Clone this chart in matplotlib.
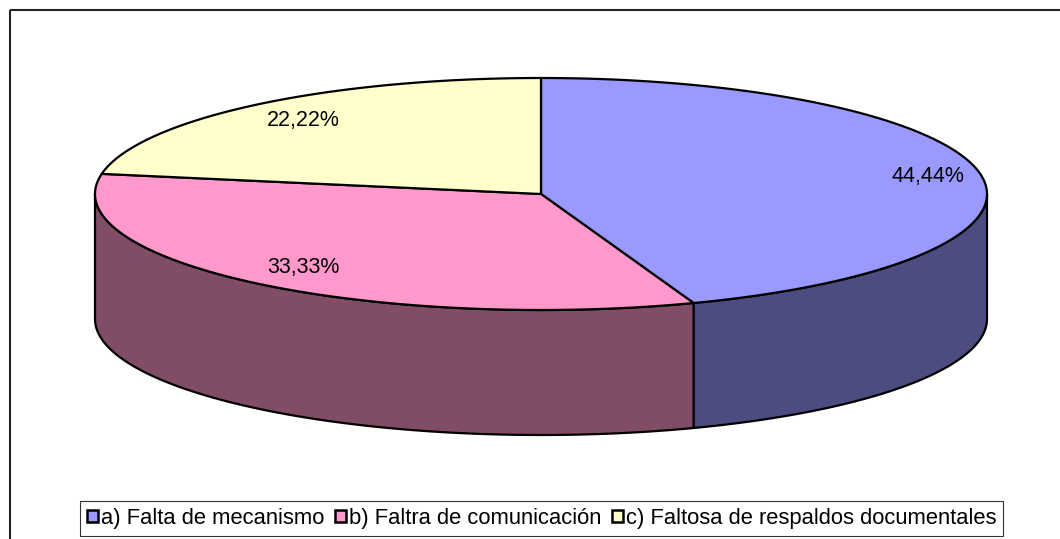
import numpy as np
import matplotlib.pyplot as plt
from matplotlib.patches import Polygon, Patch, Rectangle

plt.rcParams['font.family'] = ['Liberation Sans', 'DejaVu Sans']

categories = ['a) Falta de mecanismo', 'b) Faltra de comunicación',
              'c) Faltosa de respaldos documentales']
values = [44.44, 33.33, 22.22]
top_colors = ['#9999FF', '#FF99CC', '#FFFFCC']
side_colors = ['#4C4C80', '#804C66', '#80806A']

# pie geometry in pixel units (y grows downwards)
cx, cy = 541, 194
rx, ry = 446, 116
depth = 125
label_r = [0.88, 0.83, 0.83]


def ellipse_pts(t0, t1, dy=0, n=200):
    t = np.radians(np.linspace(t0, t1, n))
    return np.column_stack([cx + rx * np.cos(t), cy + dy - ry * np.sin(t)])


fig = plt.figure(figsize=(10.6, 5.39), dpi=100)
ax = fig.add_axes([0, 0, 1, 1])
ax.set_xlim(0, 1060)
ax.set_ylim(539, 0)
ax.axis('off')

# outer chart frame
ax.add_patch(Rectangle((10, 10), 1060, 540, fill=False, ec='#222222', lw=1.5))

fracs = np.array(values) / sum(values)
starts = 90 - 360 * np.concatenate([[0], np.cumsum(fracs)[:-1]])
ends = starts - 360 * fracs

# side walls (only the front half, angles between -180 and 0)
for s, e, c in zip(starts, ends, side_colors):
    lo, hi = max(e, -180), min(s, 0)
    if lo >= hi:
        continue
    top = ellipse_pts(hi, lo)
    bot = ellipse_pts(lo, hi, dy=depth)
    ax.add_patch(Polygon(np.vstack([top, bot]), closed=True, fc=c,
                         ec='black', lw=1.6, joinstyle='round'))

# top faces
for s, e, c in zip(starts, ends, top_colors):
    arc = ellipse_pts(s, e)
    pts = np.vstack([[cx, cy], arc])
    ax.add_patch(Polygon(pts, closed=True, fc=c, ec='black', lw=1.6,
                         joinstyle='round'))

# percentage labels
for s, e, v, r in zip(starts, ends, values, label_r):
    m = np.radians((s + e) / 2)
    x = cx + r * rx * np.cos(m)
    y = cy - r * ry * np.sin(m)
    ax.text(x, y, f'{v:.2f}%'.replace('.', ','), ha='center', va='center',
            fontsize=15.5)

handles = [Patch(fc=c, ec='black', lw=1.8) for c in top_colors]
leg = fig.legend(handles, categories, ncol=3, loc='lower center',
                 bbox_to_anchor=(0.511, 0.006), fontsize=15.8,
                 frameon=True, fancybox=False, edgecolor='black',
                 handlelength=0.5, handleheight=0.5, handletextpad=0.12,
                 columnspacing=0.5, borderpad=0.32, borderaxespad=0)
leg.get_frame().set_linewidth(0.8)

fig.savefig('out.png', dpi=100, facecolor='white')
